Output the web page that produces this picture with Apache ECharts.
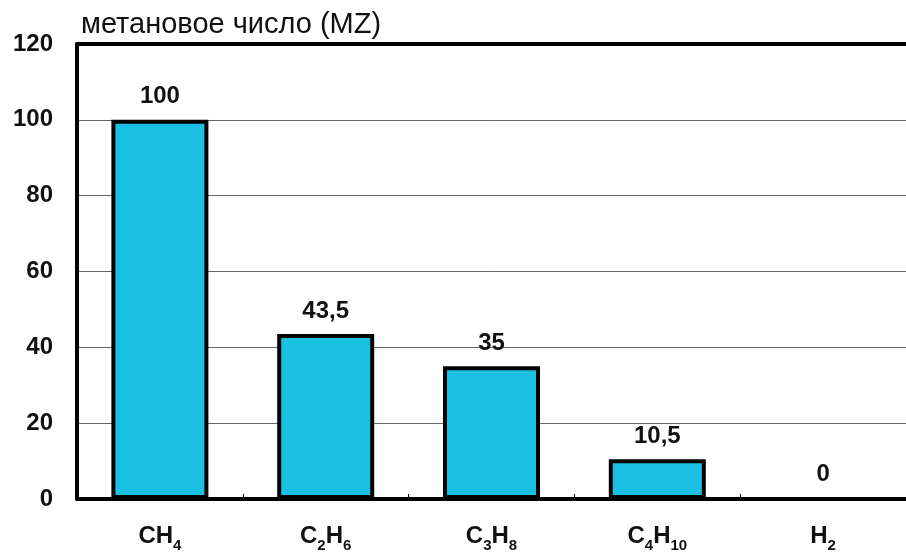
<!DOCTYPE html>
<html>
<head>
<meta charset="utf-8">
<script src="https://cdn.jsdelivr.net/npm/echarts@6/dist/echarts.min.js"></script>
<style>
  html, body { margin: 0; padding: 0; background: #fff; }
  #chart { width: 906px; height: 553px; }
</style>
</head>
<body>
<div id="chart"></div>
<script>
// Gas components: [main symbol part, subscript] pairs for each formula
const categories = [
  [['CH', '4']],
  [['C', '2'], ['H', '6']],
  [['C', '3'], ['H', '8']],
  [['C', '4'], ['H', '10']],
  [['H', '2']]
];
const methaneNumber = [100, 43.5, 35, 10.5, 0];
const valueLabels = ['100', '43,5', '35', '10,5', '0'];
const yTicks = [0, 20, 40, 60, 80, 100, 120];
const chartTitle = 'метановое число (MZ)';

const categoryText = categories.map(parts =>
  parts.map(p => '{m|' + p[0] + '}{s|' + p[1] + '}').join('')
);

const chart = echarts.init(document.getElementById('chart'));
const FONT = '"Liberation Sans", Arial, sans-serif';

chart.setOption({
  animation: false,
  grid: { left: 77, right: -9, top: 44, bottom: 50, containLabel: false },
  title: {
    text: chartTitle,
    left: 76, top: 5,
    textStyle: { fontFamily: FONT, fontSize: 29, fontWeight: 'normal', color: '#111' }
  },
  xAxis: [{
    type: 'category',
    data: categoryText,
    axisLine: { lineStyle: { color: '#000', width: 4 } },
    axisTick: { show: true, inside: true, length: 5, lineStyle: { color: '#000', width: 1 } },
    axisLabel: {
      margin: 23,
      formatter: v => v,
      rich: {
        m: { fontFamily: FONT, fontSize: 24, fontWeight: 'bold', color: '#111', verticalAlign: 'bottom', lineHeight: 26 },
        s: { fontFamily: FONT, fontSize: 15, fontWeight: 'bold', color: '#111', verticalAlign: 'bottom', lineHeight: 15, padding: [0, 0, -5, 0] }
      }
    }
  }, {
    type: 'category',
    position: 'top',
    data: categoryText,
    axisLine: { lineStyle: { color: '#000', width: 4 } },
    axisTick: { show: false },
    axisLabel: { show: false }
  }],
  yAxis: {
    type: 'value',
    min: 0, max: 120, interval: 20,
    axisLine: { show: true, lineStyle: { color: '#000', width: 4 } },
    axisTick: { show: false },
    splitLine: { show: true, lineStyle: { color: '#666', width: 1 } },
    axisLabel: {
      margin: 24,
      fontFamily: FONT, fontSize: 24, fontWeight: 'bold', color: '#111',
      formatter: v => yTicks.includes(v) ? String(v) : ''
    }
  },
  series: [{
    type: 'bar',
    data: methaneNumber,
    barWidth: 97,
    itemStyle: { color: '#1bc1e3', borderColor: '#000', borderWidth: 4 },
    label: {
      show: true,
      position: 'top',
      distance: 11,
      fontFamily: FONT, fontSize: 24, fontWeight: 'bold', color: '#111',
      formatter: p => valueLabels[p.dataIndex]
    }
  }]
});
</script>
</body>
</html>
